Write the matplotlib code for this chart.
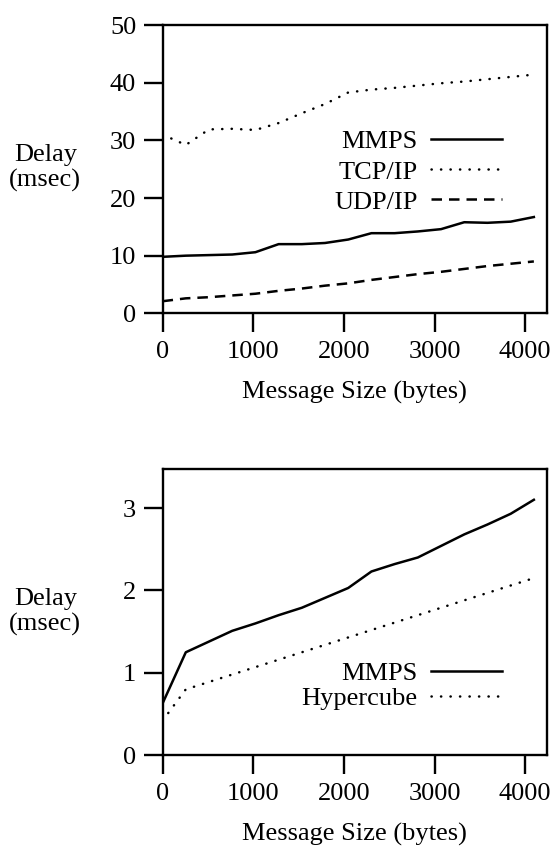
import matplotlib
matplotlib.use("Agg")
import matplotlib.pyplot as plt

plt.rcParams['font.family'] = ['Liberation Serif', 'DejaVu Serif']
plt.rcParams['font.size'] = 19

# message sizes (bytes)
sizes = [0, 256, 512, 768, 1024, 1280, 1536, 1792, 2048,
         2304, 2560, 2816, 3072, 3328, 3584, 3840, 4096]

# top panel: network delays (msec)
mmps_net = [9.8, 10.0, 10.1, 10.2, 10.6, 12.0, 12.0, 12.2, 12.8,
            13.9, 13.9, 14.2, 14.6, 15.8, 15.7, 15.9, 16.7]
tcp_ip = [31.0, 29.2, 31.9, 32.0, 31.8, 33.0, 34.7, 36.3, 38.3,
          38.8, 39.1, 39.5, 39.9, 40.2, 40.6, 41.0, 41.4]
udp_ip = [2.1, 2.6, 2.8, 3.1, 3.4, 3.9, 4.3, 4.8, 5.2,
          5.8, 6.3, 6.8, 7.2, 7.7, 8.2, 8.6, 9.0]

# bottom panel: local delays (msec)
mmps_local = [0.63, 1.25, 1.38, 1.51, 1.60, 1.70, 1.79, 1.91, 2.03,
              2.23, 2.32, 2.40, 2.54, 2.68, 2.80, 2.93, 3.10]
hypercube = [0.42, 0.80, 0.89, 0.98, 1.07, 1.16, 1.25, 1.34, 1.43,
             1.52, 1.61, 1.70, 1.79, 1.88, 1.97, 2.06, 2.15]

x_ticks = [0, 1000, 2000, 3000, 4000]
top_yticks = [0, 10, 20, 30, 40, 50]
bot_yticks = [0, 1, 2, 3]

LW = 1.8
DOTTED = (0, (0.1, 3.7))
DASHED = (0, (4.2, 2.8))


def style_axes(ax):
    for s in ax.spines.values():
        s.set_linewidth(1.7)
    ax.tick_params(direction='out', length=14, width=1.7, pad=5)
    ax.tick_params(axis='x', pad=6)
    ax.set_xlim(0, 4240)
    ax.set_xticks(x_ticks)
    ax.set_xlabel("Message Size (bytes)", labelpad=13)


fig = plt.figure(figsize=(5.53, 8.48), dpi=100)

# top panel
ax1 = fig.add_axes([0.294, 0.6305, 0.695, 0.340])
ax1.plot(sizes, mmps_net, color='black', lw=LW, label="MMPS")
ax1.plot(sizes, tcp_ip, color='black', lw=LW, linestyle=DOTTED,
         dash_capstyle='round', label="TCP/IP")
ax1.plot(sizes, udp_ip, color='black', lw=LW, linestyle=DASHED, label="UDP/IP")
ax1.set_ylim(0, 50)
ax1.set_yticks(top_yticks)
style_axes(ax1)
ax1.legend(loc='upper right', bbox_to_anchor=(0.883, 0.636), frameon=False,
           markerfirst=False, handlelength=2.7, handletextpad=0.5,
           labelspacing=0.25, borderpad=0, borderaxespad=0)
fig.text(0.082, 1 - 168 / 848, "Delay\n(msec)", ha='center', va='center',
         linespacing=1.15)

# bottom panel
ax2 = fig.add_axes([0.294, 0.1093, 0.695, 0.3373])
ax2.plot(sizes, mmps_local, color='black', lw=LW, label="MMPS")
ax2.plot(sizes, hypercube, color='black', lw=LW, linestyle=DOTTED,
         dash_capstyle='round', label="Hypercube")
ax2.set_ylim(0, 3.47)
ax2.set_yticks(bot_yticks)
style_axes(ax2)
ax2.legend(loc='upper right', bbox_to_anchor=(0.883, 0.328), frameon=False,
           markerfirst=False, handlelength=2.7, handletextpad=0.5,
           labelspacing=0.07, borderpad=0, borderaxespad=0)
fig.text(0.082, 1 - 612 / 848, "Delay\n(msec)", ha='center', va='center',
         linespacing=1.15)

fig.savefig("out.png", dpi=100)
